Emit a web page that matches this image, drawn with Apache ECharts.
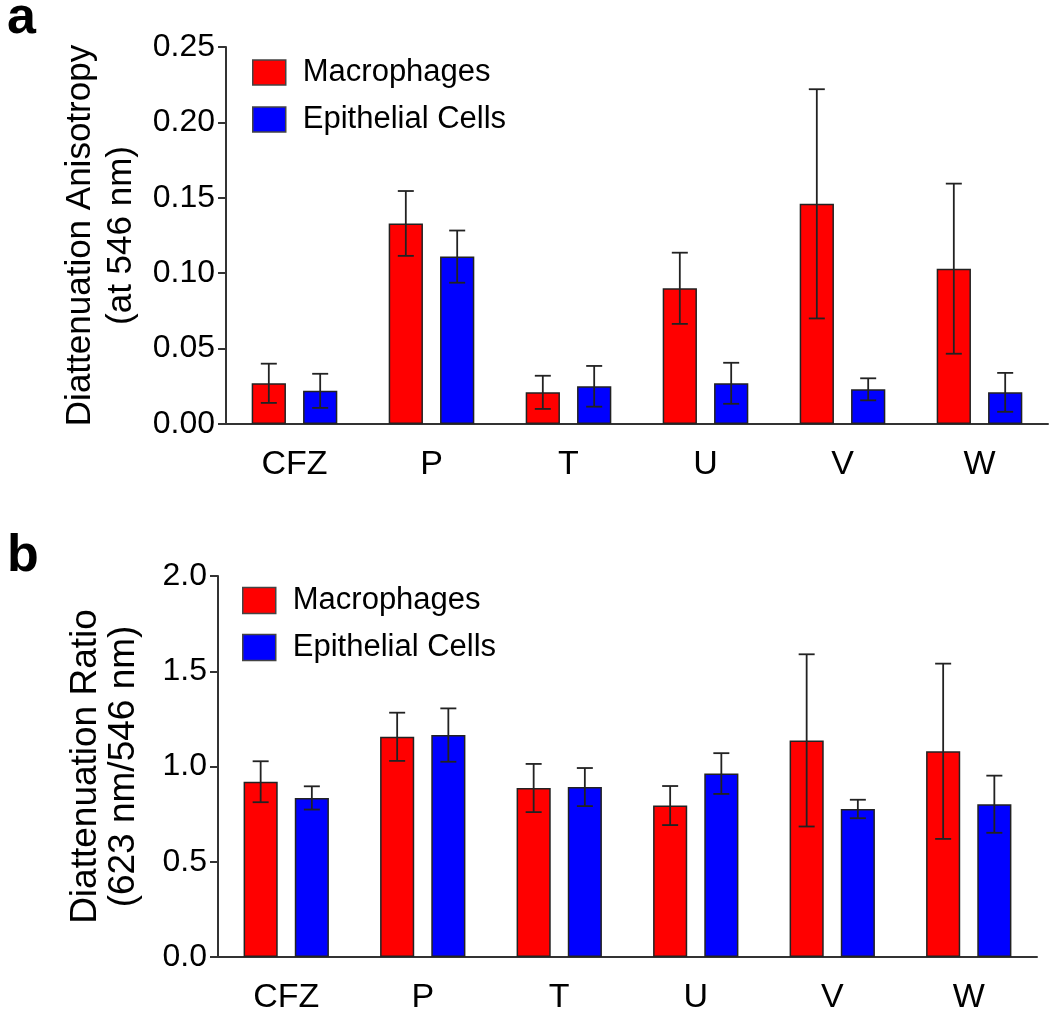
<!DOCTYPE html>
<html>
<head>
<meta charset="utf-8">
<script src="https://cdn.jsdelivr.net/npm/echarts@6/dist/echarts.min.js"></script>
<style>
html,body{margin:0;padding:0;background:#fff;}
#chart{width:1050px;height:1015px;}
</style>
</head>
<body>
<div id="chart"></div>
<script>
const categories = ['CFZ', 'P', 'T', 'U', 'V', 'W'];
const seriesNames = ['Macrophages', 'Epithelial Cells'];

// Panel a: Diattenuation Anisotropy (at 546 nm)
const anisoMac = [0.027, 0.133, 0.021, 0.090, 0.146, 0.103];
const anisoMacErr = [0.013, 0.0215, 0.011, 0.0236, 0.076, 0.0564];
const anisoEpi = [0.022, 0.111, 0.025, 0.027, 0.023, 0.021];
const anisoEpiErr = [0.0113, 0.0173, 0.0135, 0.0136, 0.0073, 0.0129];

// Panel b: Diattenuation Ratio (623 nm/546 nm)
const ratioMac = [0.920, 1.156, 0.887, 0.795, 1.137, 1.080];
const ratioMacErr = [0.1075, 0.1265, 0.1265, 0.1025, 0.452, 0.46];
const ratioEpi = [0.835, 1.165, 0.892, 0.963, 0.777, 0.802];
const ratioEpiErr = [0.061, 0.14, 0.10, 0.107, 0.0485, 0.15];

const anisoTicks = [0, 0.05, 0.10, 0.15, 0.20, 0.25];
const ratioTicks = [0, 0.5, 1.0, 1.5, 2.0];

const FONT = "'Liberation Sans', Arial, sans-serif";
const AXIS_COLOR = '#333';
const RED = '#ff0000';
const BLUE = '#0000ff';
const BAR_W_FRAC = 0.25;   // bar width as fraction of band
const GAP_FRAC = 0.5;      // barGap relative to bar width

function barSeries(name, data, color, idx) {
  return {
    name: name, type: 'bar', xAxisIndex: idx, yAxisIndex: idx,
    data: data, barWidth: (BAR_W_FRAC * 100) + '%', barGap: (GAP_FRAC * 100) + '%',
    itemStyle: { color: color, borderColor: '#222', borderWidth: 1.5 },
    z: 2
  };
}

function errSeries(values, errs, sign, idx) {
  return {
    name: 'err' + idx + sign, type: 'custom', xAxisIndex: idx, yAxisIndex: idx,
    data: values.map((v, i) => [i, v, errs[i]]),
    z: 5, silent: true,
    renderItem: function (params, api) {
      const i = api.value(0), v = api.value(1), e = api.value(2);
      const band = api.size([1, 0])[0];
      const off = sign * band * BAR_W_FRAC * (1 + GAP_FRAC) / 2;
      const top = api.coord([i, v + e]);
      const bot = api.coord([i, v - e]);
      const x = top[0] + off;
      const cap = 8;
      const st = { stroke: '#222', lineWidth: 1.8 };
      return {
        type: 'group',
        children: [
          { type: 'line', shape: { x1: x, y1: top[1], x2: x, y2: bot[1] }, style: st },
          { type: 'line', shape: { x1: x - cap, y1: top[1], x2: x + cap, y2: top[1] }, style: st },
          { type: 'line', shape: { x1: x - cap, y1: bot[1], x2: x + cap, y2: bot[1] }, style: st }
        ]
      };
    }
  };
}

function xAxis(idx) {
  return {
    type: 'category', gridIndex: idx, data: categories,
    axisLine: { lineStyle: { color: AXIS_COLOR, width: 2 } },
    axisTick: { show: false },
    axisLabel: { color: '#000', fontSize: 34, fontFamily: FONT, margin: 24 }
  };
}

function yAxis(idx, min, max, interval, digits, name, nameSize, lineH, nameGap) {
  return {
    type: 'value', gridIndex: idx, min: min, max: max, interval: interval,
    splitLine: { show: false },
    axisLine: { show: true, lineStyle: { color: AXIS_COLOR, width: 2 } },
    axisTick: { show: true, length: 8, lineStyle: { color: AXIS_COLOR, width: 2 } },
    axisLabel: { color: '#000', fontSize: 32, fontFamily: FONT, margin: 11,
      formatter: v => v.toFixed(digits) },
    name: name, nameLocation: 'middle', nameRotate: 90, nameGap: nameGap,
    nameTextStyle: { color: '#000', fontSize: nameSize, fontFamily: FONT, lineHeight: lineH, align: 'center' }
  };
}

function legend(left, top, h) {
  return {
    left: left, top: top, orient: 'vertical', data: seriesNames,
    icon: 'rect',
    itemWidth: 33, itemHeight: h, itemGap: 16,
    textStyle: { fontSize: 31, fontFamily: FONT, color: '#000', padding: [0, 0, 0, 12] },
    itemStyle: { borderColor: '#444', borderWidth: 1.5 },
    selectedMode: false
  };
}

const option = {
  backgroundColor: '#fff',
  animation: false,
  title: [
    { text: 'a', left: 2, top: -12, textStyle: { fontSize: 52, fontWeight: 'bold', fontFamily: FONT, color: '#000' } },
    { text: 'b', left: 2, top: 526, textStyle: { fontSize: 52, fontWeight: 'bold', fontFamily: FONT, color: '#000' } }
  ],
  legend: [legend(247, 52, 25), legend(237, 580, 26)],
  grid: [
    { left: 226, right: 2, top: 47, bottom: 591 },
    { left: 218, right: 13, top: 576, bottom: 56 }
  ],
  xAxis: [xAxis(0), xAxis(1)],
  yAxis: [
    yAxis(0, anisoTicks[0], anisoTicks[anisoTicks.length - 1], anisoTicks[1] - anisoTicks[0], 2,
      'Diattenuation Anisotropy\n(at 546 nm)', 35, 41, 82),
    yAxis(1, ratioTicks[0], ratioTicks[ratioTicks.length - 1], ratioTicks[1] - ratioTicks[0], 1,
      'Diattenuation Ratio\n(623 nm/546 nm)', 37, 38, 75)
  ],
  series: [
    barSeries(seriesNames[0], anisoMac, RED, 0),
    barSeries(seriesNames[1], anisoEpi, BLUE, 0),
    errSeries(anisoMac, anisoMacErr, -1, 0),
    errSeries(anisoEpi, anisoEpiErr, 1, 0),
    barSeries(seriesNames[0], ratioMac, RED, 1),
    barSeries(seriesNames[1], ratioEpi, BLUE, 1),
    errSeries(ratioMac, ratioMacErr, -1, 1),
    errSeries(ratioEpi, ratioEpiErr, 1, 1)
  ]
};

const chart = echarts.init(document.getElementById('chart'), null, { renderer: 'canvas' });
chart.setOption(option);
</script>
</body>
</html>
